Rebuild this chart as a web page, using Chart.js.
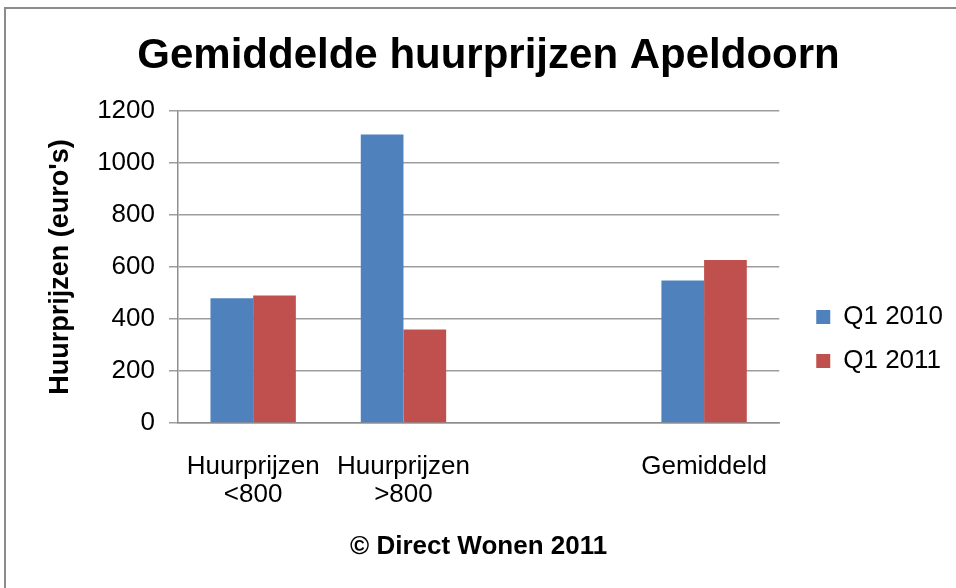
<!DOCTYPE html>
<html>
<head>
<meta charset="utf-8">
<script src="https://cdn.jsdelivr.net/npm/chart.js@4"></script>
<style>
  html, body { margin: 0; padding: 0; background: #fff; }
  #wrap { position: relative; width: 956px; height: 588px; overflow: hidden; background: #fff; }
  #frame { position: absolute; left: 4px; top: 7px; width: 1100px; height: 700px;
           border-left: 2px solid #8c8c8c; border-top: 2px solid #8c8c8c; }
  canvas { position: absolute; left: 0; top: 0; }
</style>
</head>
<body>
<div id="wrap">
  <div id="frame"></div>
  <canvas id="c" width="956" height="588"></canvas>
</div>
<script>
// ---- data ----
const categories = [['Huurprijzen', '<800'], ['Huurprijzen', '>800'], '', 'Gemiddeld'];
const seriesNames = ['Q1 2010', 'Q1 2011'];
const q1_2010 = [480, 1110, null, 548];
const q1_2011 = [490, 360, null, 627];
const yMin = 0, yMax = 1200, yStep = 200;
const chartTitle = 'Gemiddelde huurprijzen Apeldoorn';
const yTitle = "Huurprijzen (euro's)";
const xTitle = '\u00A9 Direct Wonen 2011';

Chart.defaults.font.family = '"Liberation Sans", Arial, sans-serif';
Chart.defaults.color = '#000';

new Chart(document.getElementById('c'), {
  type: 'bar',
  data: {
    labels: categories,
    datasets: [
      { label: seriesNames[0], data: q1_2010, backgroundColor: '#4F81BD', borderWidth: 0 },
      { label: seriesNames[1], data: q1_2011, backgroundColor: '#C0504D', borderWidth: 0 }
    ]
  },
  options: {
    responsive: false,
    animation: false,
    devicePixelRatio: 1,
    categoryPercentage: 0.568,
    barPercentage: 1.0,
    layout: { padding: { left: 24, right: 3, top: 0, bottom: 0 } },
    plugins: {
      tooltip: { enabled: false },
      title: {
        display: true, text: chartTitle, color: '#000',
        font: { size: 42, weight: 'bold' },
        padding: { top: 30.8, bottom: 29.8 }
      },
      legend: {
        position: 'right', align: 'center',
        title: { display: true, text: ' ', font: { size: 10 }, padding: { top: 78, bottom: 0 } },
        labels: { font: { size: 26 }, color: '#000', boxWidth: 14, boxHeight: 14, padding: 18 }
      }
    },
    scales: {
      x: {
        grid: { display: true, drawOnChartArea: false, drawTicks: true, tickLength: 30, tickColor: 'rgba(0,0,0,0)' },
        border: { display: true, color: '#8e8e8e', width: 1.5 },
        ticks: { font: { size: 26, lineHeight: 1.077 }, color: '#000', padding: 0, maxRotation: 0, autoSkip: false },
        title: { display: true, text: xTitle, color: '#000', font: { size: 26, weight: 'bold' }, padding: { top: 22.4, bottom: 25.4 } }
      },
      y: {
        min: yMin, max: yMax,
        ticks: { stepSize: yStep, font: { size: 26 }, color: '#000', padding: 14,
                 callback: (v) => String(v) },
        grid: { color: '#9d9d9d', lineWidth: 1.5, tickLength: 9 },
        border: { color: '#8e8e8e', width: 1.5 },
        title: { display: true, text: yTitle, color: '#000', font: { size: 27, weight: 'bold' }, padding: { top: 20.8, bottom: 0 } },
        afterFit: (s) => { s.width = 154; }
      },
      y2: {
        position: 'right', display: true,
        grid: { display: false, drawTicks: false },
        border: { display: false },
        ticks: { display: false },
        afterFit: (s) => { s.width = 19; }
      }
    }
  }
});
</script>
</body>
</html>
